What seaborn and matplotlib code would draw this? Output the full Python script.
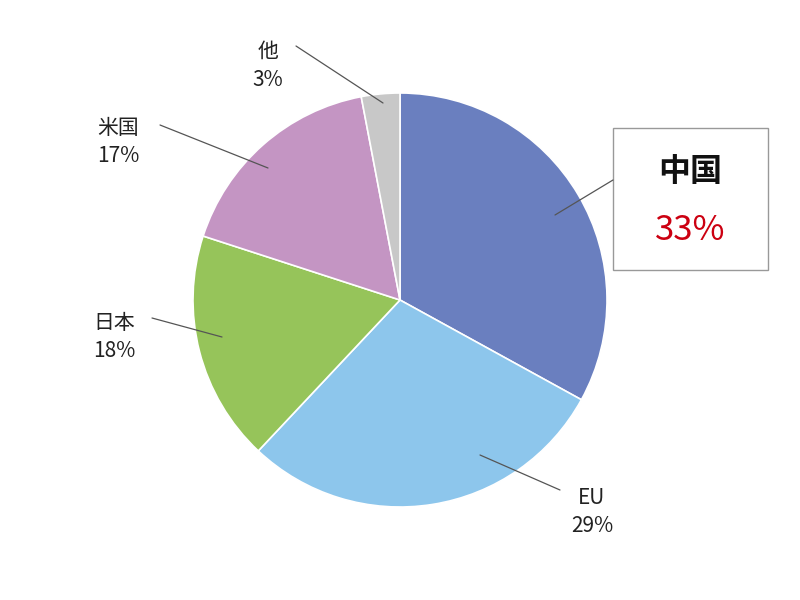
import matplotlib
matplotlib.use("Agg")
import matplotlib.pyplot as plt
from matplotlib.patches import Rectangle
import seaborn as sns

sns.set_theme(style="white")
plt.rcParams['font.family'] = ['Noto Sans CJK JP', 'DejaVu Sans']

labels = ["中国", "EU", "日本", "米国", "他"]
values = [33, 29, 18, 17, 3]
colors = ["#6a7fbf", "#8dc6ec", "#96c45a", "#c495c3", "#c8c8c8"]

R = 207.0


def p(px, py):
    # pixel -> data coords (pie radius = 1)
    return ((px - 400) / R, (300 - py) / R)


fig = plt.figure(figsize=(8, 6), dpi=100)
ax = fig.add_axes([0, 0, 1, 1])
ax.pie(values, colors=colors, startangle=90, counterclock=False,
       radius=1, center=(0, 0),
       wedgeprops=dict(edgecolor="white", linewidth=1.2))
ax.set_xlim(-400 / R, 400 / R)
ax.set_ylim(-300 / R, 300 / R)
ax.set_aspect("equal")
ax.axis("off")

# small labels: (label index, text pos, line start, line end)
small = [
    (4, (268, 66), (296, 46), (383, 103)),
    (3, (118, 142), (160, 125), (268, 168)),
    (2, (114, 337), (152, 318), (222, 337)),
    (1, (592, 512), (560, 490), (480, 455)),
]
for i, tpos, a, b in small:
    ax.plot(*zip(p(*a), p(*b)), color="#555555", lw=0.9)
    ax.text(*p(*tpos), f"{labels[i]}\n{values[i]}%", ha="center", va="center",
            fontsize=15, color="#222222", linespacing=1.4)

# highlighted label for 中国
ax.plot(*zip(p(613, 180), p(555, 215)), color="#555555", lw=0.9)
x0, y0 = p(613, 270)
x1, y1 = p(768, 128)
ax.add_patch(Rectangle((x0, y0), x1 - x0, y1 - y0, facecolor="white",
                       edgecolor="#999999", lw=1))
ax.text(*p(690, 172), labels[0], ha="center", va="center", fontsize=23,
        color="#111111", fontweight="bold")
ax.text(*p(690, 230), f"{values[0]}%", ha="center", va="center", fontsize=25,
        color="#cc0011")

fig.savefig("out.png", dpi=100)
